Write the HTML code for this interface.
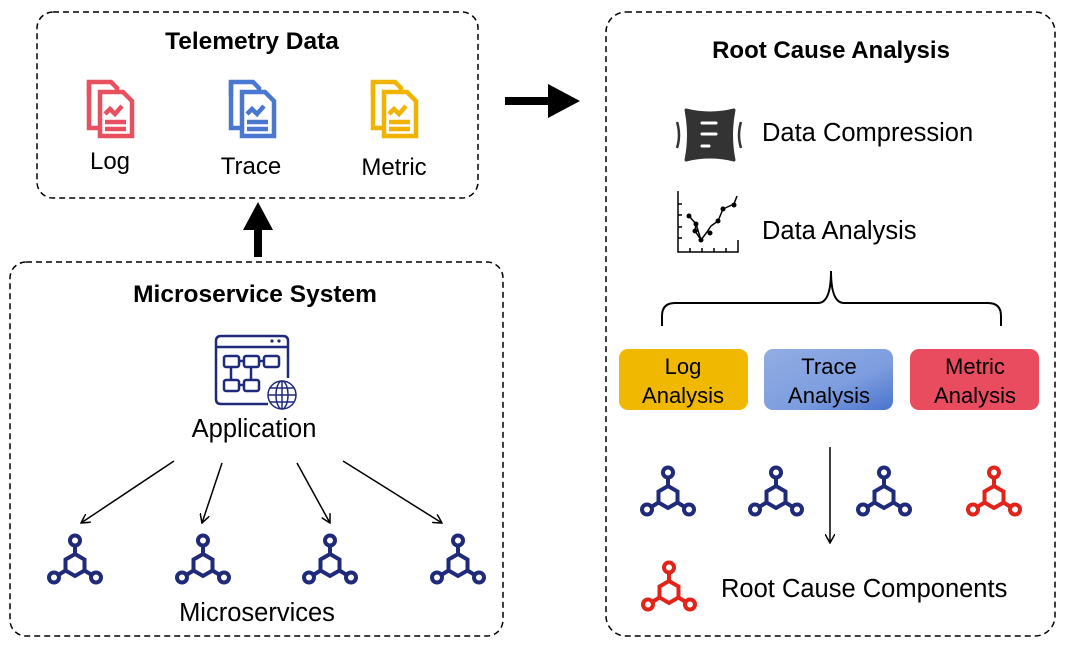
<!DOCTYPE html>
<html><head><meta charset="utf-8"><style>
body{margin:0;background:#fff}
svg{display:block}
text{font-family:"Liberation Sans",sans-serif;fill:#000}
</style></head><body>
<svg width="1065" height="646" viewBox="0 0 1065 646" xmlns="http://www.w3.org/2000/svg">
<defs>
<marker id="ah" markerWidth="10" markerHeight="10" refX="9" refY="5" orient="auto" markerUnits="userSpaceOnUse">
<path d="M0,0 L9,5 L0,10" fill="none" stroke="#000" stroke-width="1.5"/></marker>
<linearGradient id="tg" x1="0" y1="0" x2="1" y2="1"><stop offset="0" stop-color="#93ade3"/><stop offset="0.6" stop-color="#7d9ddf"/><stop offset="1" stop-color="#4a74cc"/></linearGradient>
<g id="ms" fill="none" stroke-width="4">
<polygon points="0,-11 9.5,-5.5 9.5,5.5 0,11 -9.5,5.5 -9.5,-5.5"/>
<line x1="0" y1="-11" x2="0" y2="-19"/>
<line x1="9.5" y1="5.5" x2="16" y2="9.5"/>
<line x1="-9.5" y1="5.5" x2="-16" y2="9.5"/>
<circle cx="0" cy="-24.5" r="5"/>
<circle cx="21" cy="12.5" r="5"/>
<circle cx="-21" cy="12.5" r="5"/>
</g>
<g id="doc" fill="none" stroke-width="4.5">
<path d="M2,18 V4 H24 L30,10 V13"/>
<path d="M2,4 V50 H11"/>
<path d="M13,14 H36 L45,23 V58 H13 Z"/>
<path d="M18,36 L23,31 L28,36 L35,28"/>
<line x1="18" y1="44" x2="39" y2="44"/>
<line x1="18" y1="51" x2="39" y2="51"/>
</g>
</defs>
<rect x="37" y="12" width="441" height="186" rx="16" fill="none" stroke="#000" stroke-width="1.5" stroke-dasharray="6,4"/>
<rect x="10" y="262" width="493" height="374" rx="16" fill="none" stroke="#000" stroke-width="1.5" stroke-dasharray="6,4"/>
<rect x="606" y="12" width="449" height="624" rx="20" fill="none" stroke="#000" stroke-width="1.5" stroke-dasharray="6,4"/>

<text x="252" y="49" font-size="24.5" font-weight="bold" text-anchor="middle">Telemetry Data</text>
<use href="#doc" x="87" y="78" stroke="#e8505f"/>
<use href="#doc" x="229" y="78" stroke="#4a78d0"/>
<use href="#doc" x="371" y="78" stroke="#f0b400"/>
<text x="110" y="169" font-size="24" text-anchor="middle">Log</text>
<text x="251" y="174" font-size="24" text-anchor="middle">Trace</text>
<text x="394" y="175" font-size="24" text-anchor="middle">Metric</text>

<line x1="505" y1="101" x2="560" y2="101" stroke="#000" stroke-width="8"/>
<path d="M548,84 L580,101 L548,118 Z" fill="#000"/>
<line x1="258" y1="257" x2="258" y2="222" stroke="#000" stroke-width="8"/>
<path d="M243,230 L258,202 L273,230 Z" fill="#000"/>

<text x="255" y="302" font-size="24.5" font-weight="bold" text-anchor="middle">Microservice System</text>
<g fill="none" stroke="#1f2a7a" stroke-width="2.5">
<path d="M268,404 H221 Q216,404 216,399 V341 Q216,336 221,336 H283 Q288,336 288,341 V378"/>
<line x1="216" y1="347" x2="288" y2="347"/>
<rect x="224" y="356" width="15" height="11" rx="2"/><rect x="244" y="356" width="15" height="11" rx="2"/><rect x="264" y="356" width="15" height="11" rx="2"/>
<rect x="224" y="380" width="15" height="11" rx="2"/><rect x="244" y="380" width="15" height="11" rx="2"/>
<line x1="239" y1="361" x2="244" y2="361"/><line x1="259" y1="361" x2="264" y2="361"/>
<line x1="231" y1="367" x2="231" y2="380"/><line x1="251" y1="367" x2="251" y2="380"/><line x1="239" y1="385" x2="244" y2="385"/>
<circle cx="282" cy="395" r="14" stroke-width="1.5"/>
<ellipse cx="282" cy="395" rx="6" ry="14" stroke-width="1.5"/>
<line x1="268" y1="395" x2="296" y2="395" stroke-width="1.5"/>
<line x1="270" y1="388" x2="294" y2="388" stroke-width="1.5"/><line x1="270" y1="402" x2="294" y2="402" stroke-width="1.5"/>
<line x1="282" y1="381" x2="282" y2="409" stroke-width="1.5"/>
</g>
<circle cx="272" cy="341" r="1.6" fill="#1f2a7a"/><circle cx="279" cy="341" r="1.6" fill="#1f2a7a"/>
<text x="254" y="437" font-size="25.5" text-anchor="middle">Application</text>

<g stroke="#000" stroke-width="1.5" marker-end="url(#ah)">
<line x1="174" y1="461" x2="81" y2="523"/>
<line x1="222" y1="463" x2="202" y2="523"/>
<line x1="297" y1="463" x2="330" y2="523"/>
<line x1="343" y1="461" x2="442" y2="523"/>
</g>
<use href="#ms" x="75" y="565" stroke="#1f2a7a"/>
<use href="#ms" x="203" y="565" stroke="#1f2a7a"/>
<use href="#ms" x="330" y="565" stroke="#1f2a7a"/>
<use href="#ms" x="458" y="565" stroke="#1f2a7a"/>
<text x="257" y="621" font-size="25.5" text-anchor="middle">Microservices</text>

<text x="831" y="58" font-size="24" font-weight="bold" text-anchor="middle">Root Cause Analysis</text>
<path d="M686,110 Q698,113 710,113 Q722,113 734,110 Q729,135 734,160 Q722,157 710,157 Q698,157 686,160 Q691,135 686,110 Z" fill="#333" stroke="#333" stroke-width="3" stroke-linejoin="round"/>
<line x1="702" y1="123" x2="716" y2="123" stroke="#fff" stroke-width="3" stroke-linecap="round"/>
<line x1="702" y1="134" x2="716" y2="134" stroke="#fff" stroke-width="3" stroke-linecap="round"/>
<line x1="702" y1="146" x2="709" y2="146" stroke="#fff" stroke-width="3" stroke-linecap="round"/>
<path d="M677,122 Q681,135 677,148" fill="none" stroke="#333" stroke-width="2.5"/>
<path d="M741,122 Q737,135 741,148" fill="none" stroke="#333" stroke-width="2.5"/>
<text x="762" y="141" font-size="25.5">Data Compression</text>
<g fill="none" stroke="#000" stroke-width="1.5">
<path d="M678,191 V252 H738 V240"/>
<path d="M678,204h4M678,215h4M678,227h4M678,238h4M690,252v-4M702,252v-4M714,252v-4M726,252v-4"/>
<polyline points="689,216 696,224 701,240 707,232 711,226 718,221 723,209 734,204 737,196"/>
<line x1="696" y1="224" x2="695" y2="231"/><line x1="695" y1="231" x2="701" y2="240"/>
</g>
<g fill="#000"><circle cx="689" cy="216" r="2.5"/><circle cx="696" cy="224" r="2.5"/><circle cx="695" cy="231" r="2.5"/><circle cx="701" cy="240" r="2.5"/><circle cx="710" cy="233" r="2.5"/><circle cx="718" cy="221" r="2.5"/><circle cx="723" cy="209" r="2.5"/><circle cx="734" cy="205" r="2.5"/></g>
<text x="762" y="239" font-size="25.5">Data Analysis</text>

<path d="M662,326 V316 Q662,303 675,303 H818 Q831,303 831,271 Q831,303 844,303 H988 Q1001,303 1001,316 V326" fill="none" stroke="#000" stroke-width="2"/>

<rect x="619" y="349" width="129" height="61" rx="9" fill="#f0b800"/>
<rect x="764" y="349" width="129" height="61" rx="9" fill="url(#tg)"/>
<rect x="910" y="349" width="129" height="61" rx="9" fill="#e84c5e"/>
<g font-size="22" text-anchor="middle">
<text x="683" y="374">Log</text><text x="683" y="403">Analysis</text>
<text x="829" y="374">Trace</text><text x="829" y="403">Analysis</text>
<text x="975" y="374">Metric</text><text x="975" y="403">Analysis</text>
</g>
<use href="#ms" x="668" y="497" stroke="#1f2a7a"/>
<use href="#ms" x="776" y="497" stroke="#1f2a7a"/>
<use href="#ms" x="884" y="497" stroke="#1f2a7a"/>
<use href="#ms" x="994" y="497" stroke="#e2231a"/>
<line x1="830" y1="447" x2="830" y2="543" stroke="#000" stroke-width="1.5" marker-end="url(#ah)"/>
<use href="#ms" x="669" y="592" stroke="#e2231a"/>
<text x="721" y="597" font-size="25.5">Root Cause Components</text>
</svg>
</body></html>
